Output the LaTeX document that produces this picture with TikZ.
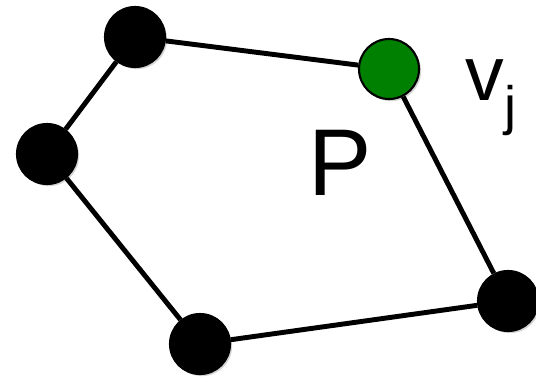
\documentclass[tikz,border=0pt]{standalone}
\usepackage{fontspec}
\setmainfont{Liberation Sans}
\usetikzlibrary{shadows}

\begin{document}
\begin{tikzpicture}[
        x=0.02cm, y=-0.02cm,
        vtx/.style={
            circle, draw=black, line width=1.2pt, fill=black,
            minimum size=1.2cm, inner sep=0pt,
            drop shadow={opacity=0.35, shadow xshift=1.2pt, shadow yshift=-1.2pt}
        },
        cur/.style={vtx, fill=green!50!black},
        edge/.style={line width=2.8pt, black},
        lab/.style={inner sep=0pt}
    ]
    \useasboundingbox (0,0) rectangle (536,376);
    %% ---- vertices of P ----
    \node[vtx] (a) at (135,37) {};
    \node[cur] (vj) at (389,69) {};
    \node[vtx] (b) at (508,301) {};
    \node[vtx] (c) at (200,344) {};
    \node[vtx] (d) at (47,154) {};

    %% ---- edges ----
    \draw[edge] (a) -- (vj);
    \draw[edge] (vj) -- (b);
    \draw[edge] (b) -- (c);
    \draw[edge] (c) -- (d);
    \draw[edge] (d) -- (a);

    %% ---- labels ----
    \node[lab, font=\fontsize{54}{60}\selectfont] (plab) at (340,163) {P};
    \node[lab, font=\fontsize{44}{50}\selectfont, anchor=base west] (vlab) at (465,100) {v\textsubscript{j}};
\end{tikzpicture}
\end{document}
